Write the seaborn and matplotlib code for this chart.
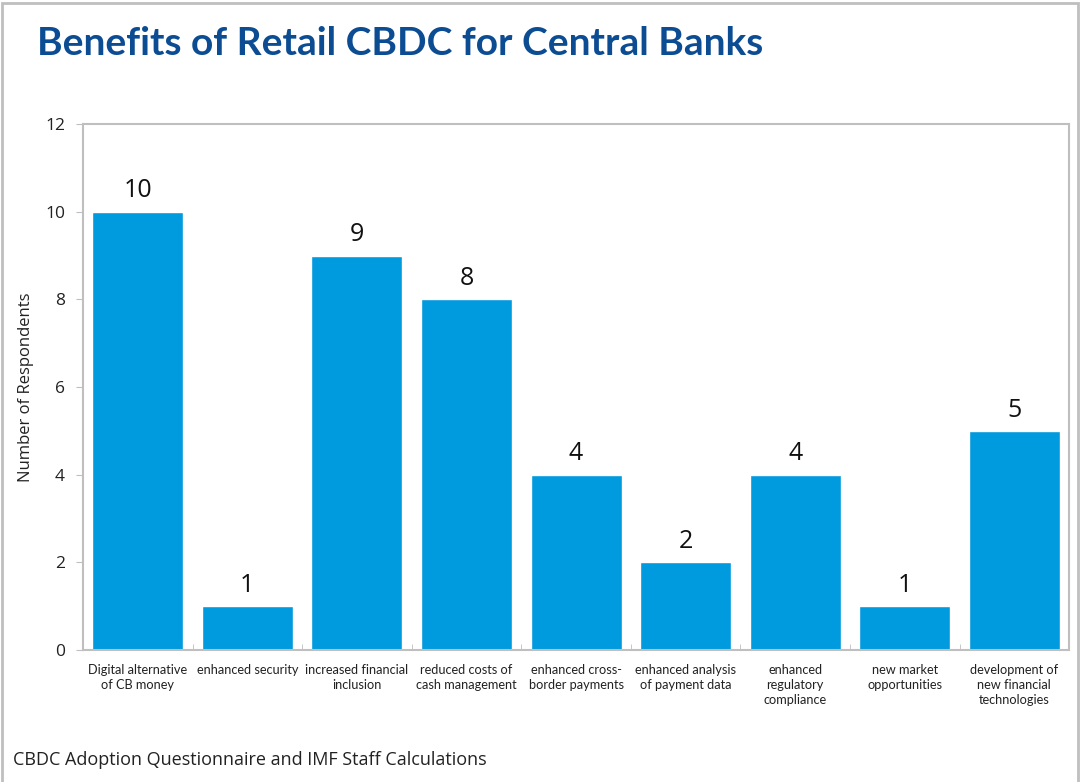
import matplotlib
matplotlib.use("Agg")
import matplotlib.pyplot as plt
import seaborn as sns
import pandas as pd

# Data
benefits = [
    "Digital alternative\nof CB money",
    "enhanced security",
    "increased financial\ninclusion",
    "reduced costs of\ncash management",
    "enhanced cross-\nborder payments",
    "enhanced analysis\nof payment data",
    "enhanced\nregulatory\ncompliance",
    "new market\nopportunities",
    "development of\nnew financial\ntechnologies",
]
respondents = [10, 1, 9, 8, 4, 2, 4, 1, 5]

df = pd.DataFrame({"benefit": benefits, "respondents": respondents})

sns.set_style("white")
plt.rcParams["font.family"] = ["Open Sans", "DejaVu Sans"]

fig = plt.figure(figsize=(10.81, 7.82), dpi=100)
ax = fig.add_axes([0.0768, 0.1688, 0.9122, 0.6726])

sns.barplot(data=df, x="benefit", y="respondents", color="#009ADE",
            saturation=1, width=0.83, ax=ax)

ax.set_ylim(0, 12)
ax.set_yticks(range(0, 13, 2))
ax.set_xlim(-0.5, len(benefits) - 0.5)
ax.set_xlabel("")
ax.set_ylabel("Number of Respondents", fontsize=12, color="#222222", labelpad=8)
ax.tick_params(axis="y", labelsize=12.5, colors="#222222", length=5, color="#BFBFBF",
               direction="out", left=True, pad=8)
ax.tick_params(axis="x", labelsize=9.2, colors="#222222", length=0, pad=10)
for lbl in ax.get_xticklabels():
    lbl.set_family(["Lato", "DejaVu Sans"])
    lbl.set_linespacing(1.3)

# small tick marks between categories
ax.set_xticks([i + 0.5 for i in range(len(benefits) - 1)], minor=True)
ax.tick_params(axis="x", which="minor", direction="in", length=4, color="#BFBFBF", bottom=True)

for s in ax.spines.values():
    s.set_color("#BFBFBF")
    s.set_linewidth(1.5)

for c in ax.containers:
    ax.bar_label(c, fontsize=18, padding=6, color="#111111")

fig.text(0.034, 0.945, "Benefits of Retail CBDC for Central Banks", fontsize=28,
         fontweight="bold", color="#0B4C93", va="center", ha="left",
         family=["Lato", "DejaVu Sans"])
fig.text(0.012, 0.028, "CBDC Adoption Questionnaire and IMF Staff Calculations",
         fontsize=13, color="#222222", va="center", ha="left")

# outer frame
fig.patches.append(plt.Rectangle((0.002, -0.01), 0.995, 1.006, transform=fig.transFigure,
                                 fill=False, edgecolor="#BFBFBF", linewidth=2))

fig.savefig("out.png", dpi=100)
